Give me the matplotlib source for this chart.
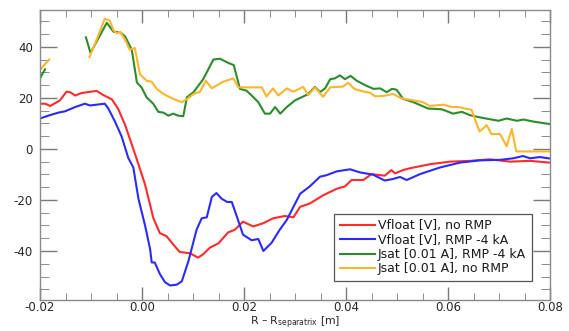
import matplotlib
matplotlib.use("Agg")
import matplotlib.pyplot as plt
from matplotlib.ticker import MultipleLocator

plt.rcParams['font.family'] = ['DejaVu Sans']
plt.rcParams['axes.unicode_minus'] = False
plt.rcParams['mathtext.fontset'] = 'dejavusans'

# Vfloat [V], no RMP
vf_norm_x = [-0.0200, -0.0190, -0.0180, -0.0161, -0.0148, -0.0141, -0.0131, -0.0118, -0.0089,
             -0.0077, -0.0059, -0.0047, -0.0033, -0.0020, -0.0007, 0.0006, 0.0016, 0.0022,
             0.0035, 0.0048, 0.0061, 0.0074, 0.0094, 0.0110, 0.0120, 0.0133, 0.0150, 0.0169,
             0.0182, 0.0198, 0.0218, 0.0238, 0.0257, 0.0280, 0.0297, 0.0310, 0.0329, 0.0355,
             0.0382, 0.0398, 0.0411, 0.0434, 0.0450, 0.0476, 0.0489, 0.0496, 0.0512, 0.0525,
             0.0565, 0.0604, 0.0643, 0.0682, 0.0722, 0.0761, 0.0800]
vf_norm_y = [17.7, 17.7, 16.8, 19.0, 22.4, 22.2, 20.9, 21.9, 22.7,
             21.2, 19.4, 15.8, 9.3, 1.7, -6.0, -14.0, -22.0, -27.0,
             -33.0, -34.2, -37.4, -40.4, -40.9, -42.6, -41.3, -38.7, -37.0, -32.7,
             -31.7, -28.5, -30.4, -29.1, -27.2, -26.3, -26.8, -22.7, -21.4, -18.2,
             -15.6, -14.7, -12.2, -12.2, -9.9, -10.5, -8.3, -9.6, -8.3, -7.6,
             -6.0, -5.0, -4.7, -4.1, -5.0, -4.7, -5.4]

# Vfloat [V], RMP -4 kA
vf_rmp_x = [-0.0200, -0.0184, -0.0164, -0.0151, -0.0131, -0.0112, -0.0102, -0.0073, -0.0066,
            -0.0053, -0.0040, -0.0027, -0.0017, -0.0007, 0.0006, 0.0016, 0.0019, 0.0025,
            0.0035, 0.0045, 0.0055, 0.0068, 0.0078, 0.0091, 0.0107, 0.0117, 0.0127, 0.0137,
            0.0146, 0.0156, 0.0167, 0.0176, 0.0186, 0.0198, 0.0215, 0.0228, 0.0238, 0.0254,
            0.0270, 0.0284, 0.0297, 0.0310, 0.0329, 0.0349, 0.0362, 0.0382, 0.0408, 0.0427,
            0.0453, 0.0476, 0.0492, 0.0506, 0.0519, 0.0545, 0.0584, 0.0623, 0.0662, 0.0702,
            0.0728, 0.0747, 0.0761, 0.0780, 0.0800]
vf_rmp_y = [11.9, 13.0, 14.2, 14.7, 16.4, 17.7, 17.0, 17.7, 15.8,
            10.7, 4.9, -3.5, -7.3, -19.5, -30.0, -39.4, -44.5, -44.5,
            -49.0, -52.2, -53.5, -53.2, -51.9, -44.0, -31.7, -27.2, -26.8, -18.8,
            -17.3, -19.5, -20.8, -20.8, -26.5, -33.6, -35.8, -35.3, -40.0, -36.8,
            -31.7, -27.8, -22.7, -17.6, -14.7, -10.9, -10.3, -8.8, -8.0, -9.2,
            -10.1, -12.4, -11.8, -11.0, -12.2, -9.9, -7.3, -5.4, -4.5, -4.3,
            -3.7, -2.8, -3.7, -3.2, -3.8]

# Jsat [0.01 A], RMP -4 kA (gap between the two segments)
js_rmp_x = [-0.0199, -0.0190, None,
            -0.0110, -0.0101, -0.0069, -0.0056, -0.0043, -0.0033, -0.0020, -0.0010, -0.0001,
            0.0009, 0.0022, 0.0032, 0.0042, 0.0052, 0.0061, 0.0071, 0.0081, 0.0088,
            0.0101, 0.0120, 0.0140, 0.0153, 0.0169, 0.0180, 0.0192, 0.0205, 0.0215,
            0.0228, 0.0241, 0.0251, 0.0261, 0.0271, 0.0284, 0.0300, 0.0316, 0.0326,
            0.0339, 0.0349, 0.0359, 0.0369, 0.0378, 0.0388, 0.0398, 0.0409, 0.0421,
            0.0437, 0.0454, 0.0467, 0.0480, 0.0490, 0.0499, 0.0512, 0.0532, 0.0561,
            0.0588, 0.0610, 0.0627, 0.0643, 0.0666, 0.0699, 0.0715, 0.0735, 0.0748,
            0.0767, 0.0800]
js_rmp_y = [28.0, 31.2, None,
            43.7, 37.6, 49.4, 45.9, 45.7, 44.0, 38.8, 26.0, 24.1,
            20.2, 17.7, 14.5, 14.2, 13.0, 13.8, 13.0, 12.8, 20.2,
            22.2, 27.3, 35.0, 35.3, 33.7, 32.8, 23.5, 22.8, 20.9,
            18.3, 13.8, 13.8, 16.4, 13.8, 16.4, 19.0, 20.5, 21.5,
            24.3, 22.2, 23.7, 27.3, 27.6, 28.8, 27.3, 28.6, 26.7,
            25.0, 23.5, 23.7, 22.2, 23.5, 23.2, 19.6, 18.3, 15.8,
            15.5, 13.8, 14.5, 13.2, 12.2, 11.0, 11.9, 11.0, 11.5,
            10.7, 9.7]

# Jsat [0.01 A], no RMP
js_norm_x = [-0.0199, -0.0182, None,
             -0.0103, -0.0089, -0.0073, -0.0063, -0.0056, -0.0050, -0.0043, -0.0033, -0.0024,
             -0.0014, -0.0004, 0.0009, 0.0019, 0.0029, 0.0042, 0.0061, 0.0078, 0.0091,
             0.0101, 0.0114, 0.0125, 0.0137, 0.0159, 0.0179, 0.0189, 0.0205, 0.0235,
             0.0244, 0.0257, 0.0267, 0.0284, 0.0297, 0.0316, 0.0326, 0.0339, 0.0355,
             0.0369, 0.0394, 0.0404, 0.0417, 0.0434, 0.0447, 0.0457, 0.0473, 0.0492,
             0.0509, 0.0532, 0.0551, 0.0564, 0.0591, 0.0607, 0.0620, 0.0633, 0.0646,
             0.0662, 0.0676, 0.0685, 0.0702, 0.0715, 0.0725, 0.0734, 0.0800]
js_norm_y = [31.2, 35.0, None,
             36.0, 42.7, 51.0, 50.2, 46.5, 45.3, 45.9, 42.7, 38.8,
             39.5, 29.2, 26.7, 26.3, 23.5, 21.5, 19.6, 18.3, 19.9,
             21.5, 22.4, 26.7, 23.7, 26.3, 27.6, 24.1, 24.1, 24.1,
             20.5, 23.7, 20.9, 23.7, 22.4, 24.3, 21.0, 24.1, 20.4,
             24.1, 24.4, 25.9, 23.4, 22.5, 22.0, 20.6, 20.7, 21.5,
             19.8, 19.0, 18.3, 16.8, 17.3, 16.4, 16.4, 15.8, 15.3,
             6.8, 9.3, 5.8, 5.8, 1.0, 7.8, -1.0, -1.0]

series = [
    (vf_norm_x, vf_norm_y, '#ff2a2a', 'Vfloat [V], no RMP'),
    (vf_rmp_x, vf_rmp_y, '#2a2aff', 'Vfloat [V], RMP -4 kA'),
    (js_rmp_x, js_rmp_y, '#2b8c2b', 'Jsat [0.01 A], RMP -4 kA'),
    (js_norm_x, js_norm_y, '#ffb52a', 'Jsat [0.01 A], no RMP'),
]

fig = plt.figure(figsize=(5.69, 3.31), dpi=100)
ax = fig.add_axes([40 / 569, 31 / 331, 510 / 569, 290 / 331])

for xs, ys, c, lab in series:
    xs = [float('nan') if v is None else v for v in xs]
    ys = [float('nan') if v is None else v for v in ys]
    ax.plot(xs, ys, color=c, lw=1.5, label=lab)

ax.set_xlim(-0.02, 0.08)
ax.set_ylim(-59.2, 54.4)

ax.xaxis.set_major_locator(MultipleLocator(0.02))
ax.xaxis.set_minor_locator(MultipleLocator(0.005))
ax.yaxis.set_major_locator(MultipleLocator(20))
ax.yaxis.set_minor_locator(MultipleLocator(5))
ax.xaxis.set_major_formatter(plt.FuncFormatter(lambda v, p: f'{v:.2f}'))

tick_col = '#7a7a7a'
ax.tick_params(axis='x', which='major', direction='in', length=9.5, width=1,
               top=True, bottom=True, color=tick_col, pad=1)
ax.tick_params(axis='x', which='minor', direction='in', length=5,
               top=True, bottom=True, color=tick_col)
ax.tick_params(axis='y', which='major', direction='in', length=12.5, width=1,
               left=True, right=True, labelright=False, color=tick_col, pad=5)
ax.tick_params(axis='y', which='minor', direction='in', length=6.5,
               left=True, right=True, color=tick_col)
ax.tick_params(which='major', labelsize=8.5, labelcolor='#262626')
for s in ax.spines.values():
    s.set_color('#8a8a8a')
    s.set_linewidth(1.0)

ax.set_xlabel('R – R$_{\\mathrm{separatrix}}$ [m]', fontsize=7.8, color='#262626',
              va='bottom')
ax.xaxis.set_label_coords(0.5, -0.1055)

leg = ax.legend(loc='lower right', bbox_to_anchor=(0.964, 0.066), fontsize=9,
                handlelength=2.8, handletextpad=0.25, labelspacing=0.1,
                borderpad=0.45, borderaxespad=0, fancybox=False, framealpha=1,
                edgecolor='#555555')
leg.get_frame().set_linewidth(0.9)
for t in leg.get_texts():
    t.set_color('#1a1a1a')

fig.savefig('out.png', dpi=100)
